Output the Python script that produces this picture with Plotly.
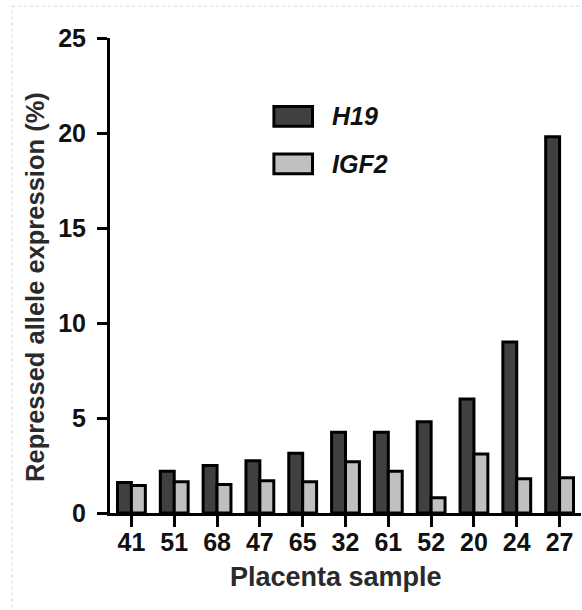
import plotly.graph_objects as go

# Placenta samples and repressed-allele expression (%) per imprinted gene
samples = ["41", "51", "68", "47", "65", "32", "61", "52", "20", "24", "27"]
h19 = [1.6, 2.2, 2.5, 2.75, 3.15, 4.25, 4.25, 4.8, 6.0, 9.0, 19.8]
igf2 = [1.45, 1.65, 1.5, 1.7, 1.65, 2.7, 2.2, 0.8, 3.1, 1.8, 1.85]

series_names = ["H19", "IGF2"]
series_colors = ["#404040", "#c0c0c0"]

y_ticks = [0, 5, 10, 15, 20, 25]

FONT = "Liberation Sans, Arial, sans-serif"

fig = go.Figure()
for name, vals, col in zip(series_names, [h19, igf2], series_colors):
    fig.add_trace(go.Bar(
        x=samples, y=vals, name=name,
        marker=dict(color=col, line=dict(color="#000000", width=3)),
        showlegend=False,
    ))

fig.update_layout(
    width=582, height=610, autosize=False,
    margin=dict(l=110, r=1, t=38, b=97),
    paper_bgcolor="white", plot_bgcolor="white",
    barmode="group", bargap=0.35, bargroupgap=0,
    font=dict(family=FONT, color="#000"),
)

fig.update_xaxes(
    type="category", range=[-0.5, 10.5],
    showline=True, linecolor="#000", linewidth=3,
    ticks="outside", ticklen=11, tickwidth=3, tickcolor="#000",
    tickfont=dict(family=FONT, size=25, weight="bold", color="#111"),
    ticklabelstandoff=-6,
    showgrid=False, zeroline=False,
)
fig.update_yaxes(
    range=[0, 25], tickvals=y_ticks,
    showline=True, linecolor="#000", linewidth=3,
    ticks="outside", ticklen=10, tickwidth=3, tickcolor="#000",
    tickfont=dict(family=FONT, size=25, weight="bold", color="#111"),
    ticklabelstandoff=6,
    showgrid=False, zeroline=False,
)

# Axis titles
fig.add_annotation(xref="paper", yref="paper", x=0.48, y=-0.135,
                   text="Placenta sample", showarrow=False,
                   xanchor="center", yanchor="middle",
                   font=dict(family=FONT, size=27, weight="bold", color="#2a2a2a"))
fig.add_annotation(xref="paper", yref="paper", x=-0.158, y=0.475,
                   text="Repressed allele expression (%)", showarrow=False,
                   textangle=-90, xanchor="center", yanchor="middle",
                   font=dict(family=FONT, size=25.5, weight="bold", color="#2a2a2a"))

# Custom legend: large outlined swatches with italic gene names
legend_rows = [(0.835, series_colors[0], series_names[0]),
               (0.735, series_colors[1], series_names[1])]
for yc, col, name in legend_rows:
    fig.add_shape(type="rect", xref="paper", yref="paper",
                  x0=0.348, x1=0.430, y0=yc - 0.021, y1=yc + 0.021,
                  fillcolor=col, line=dict(color="#000", width=3))
    fig.add_annotation(xref="paper", yref="paper", x=0.468, y=yc,
                       text=name, showarrow=False, xanchor="left", yanchor="middle",
                       font=dict(family=FONT, size=25, weight="bold",
                                 style="italic", color="#111"))

# Faint dotted frame around the figure
fig.add_shape(type="line", xref="paper", yref="paper",
              x0=-0.208, x1=1.2, y0=1.067, y1=1.067,
              line=dict(color="#d8d8d8", width=1, dash="dot"))
fig.add_shape(type="line", xref="paper", yref="paper",
              x0=-0.208, x1=-0.208, y0=-0.3, y1=1.067,
              line=dict(color="#d8d8d8", width=1, dash="dot"))

fig.write_html("out.html")
